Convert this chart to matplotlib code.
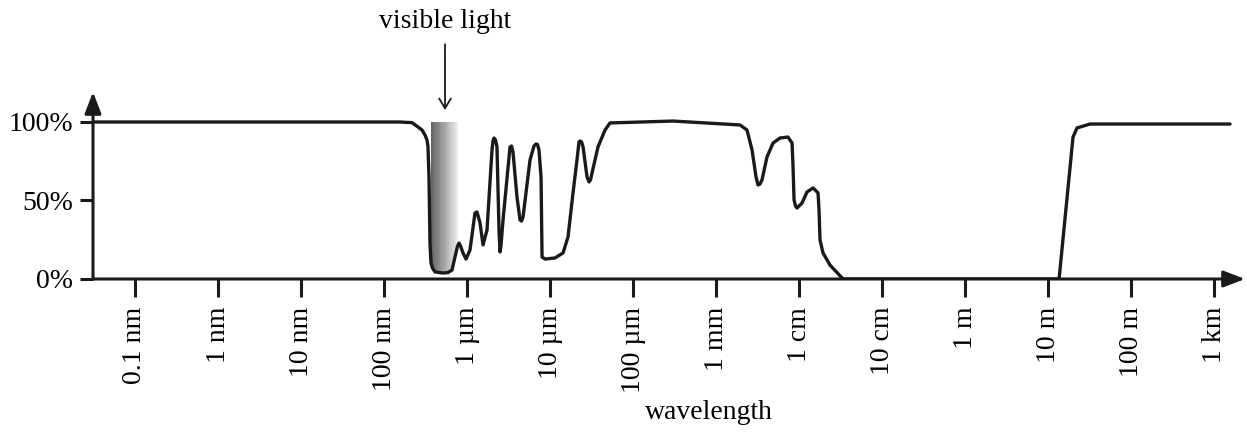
import numpy as np
import matplotlib
matplotlib.use("Agg")
import matplotlib.pyplot as plt
from matplotlib.ticker import NullLocator

plt.rcParams['font.family'] = ['Liberation Serif', 'DejaVu Serif']

# ---- data ----
# wavelength as log10(metres), opacity in percent
log10_wavelength_m = [
    -10.506, -6.807, -6.747, -6.663, -6.590, -6.542, -6.506, -6.482, -6.470, -6.458,
    -6.446, -6.434, -6.416, -6.386, -6.289, -6.229, -6.181, -6.145, -6.114, -6.096,
    -6.078, -6.048, -6.012, -5.964, -5.904, -5.880, -5.843, -5.807, -5.759, -5.699,
    -5.687, -5.675, -5.657, -5.639, -5.614, -5.602, -5.590, -5.566, -5.482, -5.464,
    -5.446, -5.398, -5.361, -5.343, -5.325, -5.241, -5.193, -5.169, -5.151, -5.133,
    -5.108, -5.096, -5.060, -4.940, -4.843, -4.783, -4.723, -4.675, -4.651, -4.639,
    -4.620, -4.602, -4.554, -4.530, -4.512, -4.494, -4.422, -4.337, -4.277, -3.518,
    -2.711, -2.627, -2.566, -2.518, -2.494, -2.470, -2.446, -2.386, -2.313, -2.229,
    -2.133, -2.084, -2.072, -2.060, -2.042, -2.024, -1.964, -1.904, -1.831, -1.771,
    -1.759, -1.747, -1.711, -1.627, -1.470, 1.133, 1.301, 1.349, 1.506, 3.193,
]
opacity_pct = [
    100.0, 100.0, 99.8, 99.6, 96.8, 94.9, 91.7, 88.5, 84.1, 65.0,
    22.9, 10.2, 7.0, 4.5, 3.8, 4.1, 5.7, 14.0, 21.0, 22.9,
    21.0, 16.6, 12.7, 18.5, 42.0, 42.7, 35.7, 21.7, 31.2, 82.2,
    87.9, 89.8, 88.5, 84.1, 30.0, 17.2, 21.7, 37.6, 84.1, 84.7,
    80.9, 52.2, 37.6, 36.9, 39.5, 75.8, 84.7, 86.0, 85.7, 82.2,
    65.0, 14.0, 12.7, 13.4, 16.6, 26.8, 54.8, 75.8, 87.3, 87.9,
    87.3, 84.1, 65.0, 61.8, 63.1, 67.5, 84.1, 94.9, 99.4, 100.6,
    98.1, 94.9, 82.2, 65.0, 59.9, 60.5, 63.1, 77.7, 86.6, 89.8,
    90.4, 86.6, 71.3, 50.3, 46.5, 45.2, 48.4, 55.4, 58.0, 54.8,
    43.9, 24.8, 16.6, 8.9, 0.0, 0.0, 90.4, 96.2, 98.7, 98.7,
]
tick_wavelengths_m = [1e-10, 1e-9, 1e-8, 1e-7, 1e-6, 1e-5, 1e-4, 1e-3, 1e-2, 1e-1, 1e0, 1e1, 1e2, 1e3]
tick_labels = ["0.1 nm", "1 nm", "10 nm", "100 nm", "1 \u00b5m", "10 \u00b5m", "100 \u00b5m",
               "1 mm", "1 cm", "10 cm", "1 m", "10 m", "100 m", "1 km"]
y_ticks = [0, 50, 100]
y_tick_labels = ["0%", "50%", "100%"]
visible_range_nm = (368, 780)

wavelength_m = 10.0 ** np.array(log10_wavelength_m)
opacity = np.array(opacity_pct)

# ---- figure ----
W, H = 1247, 436
fig = plt.figure(figsize=(W / 100, H / 100), dpi=100)
ax = fig.add_axes([93 / W, (H - 279) / H, (1245 - 93) / W, (279 - 92) / H])
ax.set_xscale('log')
ax.set_xlim(10 ** -10.506, 10 ** 3.373)
ax.set_ylim(0, 119.1)

for s in ax.spines.values():
    s.set_visible(False)

# visible-light gradient, clipped to the region above the curve
clip = ax.fill_between(wavelength_m, opacity, 100, color='none', linewidth=0)
n_str = 12
edges = np.geomspace(visible_range_nm[0] * 1e-9, visible_range_nm[1] * 1e-9, n_str + 1)
grays = np.linspace(0.40, 0.92, n_str)
for i in range(n_str):
    sp = ax.axvspan(edges[i], edges[i + 1], ymin=0, ymax=100 / 119.1,
                    color=str(grays[i]), linewidth=0, zorder=1)
    sp.set_clip_path(clip.get_paths()[0], ax.transData)

ax.plot(wavelength_m, opacity, color='#1a1a1a', lw=2.4, solid_joinstyle='round',
        solid_capstyle='round', zorder=3)

# axes with arrows
arrow_kw = dict(arrowstyle='-|>,head_length=0.65,head_width=0.25', lw=2.2, color='#1a1a1a',
                mutation_scale=20, shrinkA=0, shrinkB=0)
ax.annotate('', xy=(1, 0), xytext=(0, 0), xycoords='axes fraction', textcoords='axes fraction',
            arrowprops=arrow_kw, annotation_clip=False, zorder=4)
ax.annotate('', xy=(0, 1), xytext=(0, 0), xycoords='axes fraction', textcoords='axes fraction',
            arrowprops=arrow_kw, annotation_clip=False, zorder=4)

ax.xaxis.set_minor_locator(NullLocator())
ax.set_xticks(tick_wavelengths_m)
ax.set_xticklabels(tick_labels, rotation=90, fontsize=20)
ax.set_yticks(y_ticks)
ax.set_yticklabels(y_tick_labels, fontsize=20)
ax.tick_params(axis='x', direction='out', length=13, width=2.2, pad=7, color='#1a1a1a')
ax.tick_params(axis='y', direction='out', length=9.5, width=2.2, pad=5, color='#1a1a1a')

ax.set_xlabel("wavelength", fontsize=20)
ax.xaxis.set_label_coords((709 - 93) / 1152, -(400 - 279) / 187)

# visible light annotation
ax.annotate("visible light", xy=(10 ** -6.265, 107.6), xycoords='data',
            xytext=(445 / W, (H - 22) / H), textcoords='figure fraction',
            ha='center', va='center', fontsize=20,
            arrowprops=dict(arrowstyle='->,head_length=0.5,head_width=0.3', lw=1.3, color='#1a1a1a',
                            shrinkA=5, shrinkB=0, mutation_scale=14))

fig.savefig("out.png", dpi=100)
